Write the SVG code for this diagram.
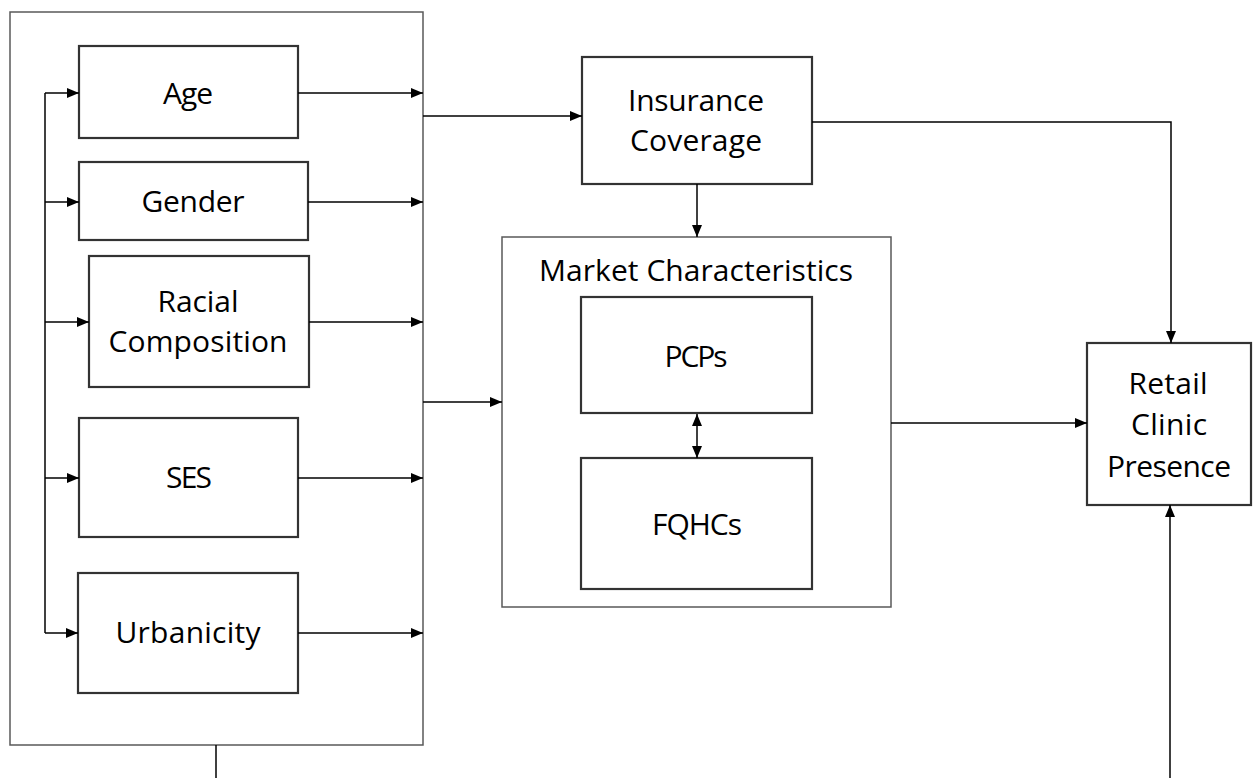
<svg xmlns="http://www.w3.org/2000/svg" width="1253" height="778" viewBox="0 0 1253 778">
<defs>
<marker id="ah" viewBox="0 0 12 10" refX="12" refY="5" markerWidth="12" markerHeight="10" markerUnits="userSpaceOnUse" orient="auto-start-reverse">
<path d="M0,0 L12,5 L0,10 z" fill="#000"/>
</marker>
<style>
.node{fill:#fff;stroke:#333;stroke-width:2.2}
.grp{fill:#fff;stroke:#595959;stroke-width:1.5}
.lbl{font-family:"Open Sans","Liberation Sans",sans-serif;font-size:30px;fill:#000;text-anchor:middle}
.c{fill:none;stroke:#000;stroke-width:1.5}
.a{marker-end:url(#ah)}
</style>
</defs>
<rect width="1253" height="778" fill="#fff"/>
<g id="demographics"><rect class="grp" x="10" y="12" width="413" height="733"/></g>
<g id="market"><rect class="grp" x="502" y="237" width="389" height="370"/>
<text class="lbl" x="696" y="281" textLength="314">Market Characteristics</text></g>
<g id="age"><rect class="node" x="79" y="46" width="219" height="92"/><text class="lbl" x="188" y="104" textLength="50">Age</text></g>
<g id="gender"><rect class="node" x="79" y="162" width="229" height="78"/><text class="lbl" x="193" y="212" textLength="103">Gender</text></g>
<g id="racial"><rect class="node" x="89" y="256" width="220" height="131"/><text class="lbl" x="198" y="312" textLength="81">Racial</text><text class="lbl" x="198" y="352" textLength="179">Composition</text></g>
<g id="ses"><rect class="node" x="79" y="418" width="219" height="119"/><text class="lbl" x="189" y="488" textLength="46">SES</text></g>
<g id="urbanicity"><rect class="node" x="78" y="573" width="220" height="120"/><text class="lbl" x="188" y="643" textLength="145">Urbanicity</text></g>
<g id="insurance"><rect class="node" x="582" y="57" width="230" height="127"/><text class="lbl" x="696" y="111" textLength="136">Insurance</text><text class="lbl" x="696" y="151" textLength="132">Coverage</text></g>
<g id="pcps"><rect class="node" x="581" y="297" width="231" height="116"/><text class="lbl" x="696" y="367" textLength="63">PCPs</text></g>
<g id="fqhcs"><rect class="node" x="581" y="458" width="231" height="131"/><text class="lbl" x="697" y="535" textLength="90">FQHCs</text></g>
<g id="retail"><rect class="node" x="1087" y="343" width="164" height="162"/><text class="lbl" x="1168" y="394" textLength="79">Retail</text><text class="lbl" x="1169" y="435" textLength="76">Clinic</text><text class="lbl" x="1169" y="477" textLength="124">Presence</text></g>
<g id="connectors">
<path class="c" d="M45,93 V633"/>
<path class="c a" d="M45,93 H79"/>
<path class="c a" d="M45,202 H79"/>
<path class="c a" d="M45,322 H89"/>
<path class="c a" d="M45,478 H79"/>
<path class="c a" d="M45,633 H78"/>
<path class="c a" d="M298,93 H423"/>
<path class="c a" d="M308,202 H423"/>
<path class="c a" d="M309,322 H423"/>
<path class="c a" d="M298,478 H423"/>
<path class="c a" d="M298,633 H423"/>
<path class="c a" d="M423,116 H582"/>
<path class="c a" d="M423,402 H502"/>
<path class="c a" d="M697,184 V237"/>
<path class="c a" d="M697,414 V458" marker-start="url(#ah)"/>
<path class="c a" d="M891,423 H1087"/>
<path class="c a" d="M812,122 H1171 V343"/>
<path class="c" d="M216,745 V778"/>
<path class="c a" d="M1170,778 V505"/>
</g>
</svg>
